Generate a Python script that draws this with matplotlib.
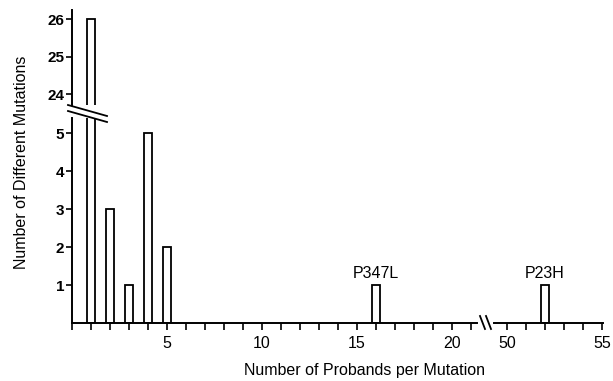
import matplotlib
matplotlib.use("Agg")
import matplotlib.pyplot as plt
from matplotlib.lines import Line2D

plt.rcParams['font.family'] = ['Liberation Sans', 'DejaVu Sans']
plt.rcParams['font.size'] = 11.5

# data
probands_left = [1, 2, 3, 4, 5, 16]
mutations_left = [26, 3, 1, 5, 2, 1]
probands_right = [52]
mutations_right = [1]
labels = {16: "P347L", 52: "P23H"}
low_yticks = [1, 2, 3, 4, 5]
high_yticks = [24, 25, 26]
left_xlabels = [5, 10, 15, 20]
right_xlabels = [50, 55]

W, H = 613, 381
fig = plt.figure(figsize=(W / 100, H / 100), dpi=100)


def rect(x0, x1, ytop, ybot):
    return [x0 / W, 1 - ybot / H, (x1 - x0) / W, (ybot - ytop) / H]


px = 19.0  # pixels per proband
ax_lo = fig.add_axes(rect(72, 72 + 21.3 * px, 118, 323))
ax_hi = fig.add_axes(rect(72, 72 + 21.3 * px, 10, 105))
ax_r = fig.add_axes(rect(507 - 0.7 * px, 507 + 5.05 * px, 118, 323))

bar_kw = dict(width=0.45, color="white", edgecolor="black", linewidth=1.3)
for ax in (ax_lo, ax_hi):
    ax.bar(probands_left, mutations_left, **bar_kw)
    ax.set_xlim(0, 21.3)
ax_r.bar(probands_right, mutations_right, **bar_kw)
ax_r.set_xlim(49.3, 55.05)

ax_lo.set_ylim(0, 5.4)
ax_r.set_ylim(0, 5.4)
ax_hi.set_ylim(23.72, 26.25)

for ax in (ax_lo, ax_hi, ax_r):
    for s in ax.spines.values():
        s.set_visible(False)
        s.set_linewidth(1.4)
    ax.tick_params(axis="x", width=1.2, length=5, direction="out", pad=4)
    ax.tick_params(axis="y", width=1.2, length=4, direction="out", pad=1.5,
                   labelsize=11)
    for t in ax.get_yticklabels():
        t.set_fontweight("bold")

ax_lo.spines["left"].set_visible(True)
ax_lo.spines["bottom"].set_visible(True)
ax_hi.spines["left"].set_visible(True)
ax_r.spines["bottom"].set_visible(True)

ax_lo.set_yticks(low_yticks)
ax_lo.set_yticklabels([str(v) for v in low_yticks], fontweight="bold")
ax_hi.set_yticks(high_yticks)
ax_hi.set_yticklabels([str(v) for v in high_yticks], fontweight="bold")
ax_hi.set_xticks([])
ax_r.set_yticks([])

ax_lo.set_xticks(range(0, 22))
ax_lo.set_xticklabels([str(v) if v in left_xlabels else "" for v in range(0, 22)])
ax_r.set_xticks(range(50, 56))
ax_r.set_xticklabels([str(v) if v in right_xlabels else "" for v in range(50, 56)])

ax_lo.text(16, 1.1, labels[16], ha="center", va="bottom")
ax_r.text(52, 1.1, labels[52], ha="center", va="bottom")

# break marks
def fline(x0, y0, x1, y1):
    fig.add_artist(Line2D([x0 / W, x1 / W], [1 - y0 / H, 1 - y1 / H],
                          color="black", linewidth=1.3))

fline(68, 105, 107, 116)
fline(68, 111, 107, 122)
fline(480, 316, 485, 329)
fline(486, 316, 491, 329)

fig.text(364 / W, 1 - 371 / H, "Number of Probands per Mutation",
         ha="center", va="center")
fig.text(22 / W, 1 - 162 / H, "Number of Different Mutations",
         ha="center", va="center", rotation=90)

fig.savefig("out.png", dpi=100)
